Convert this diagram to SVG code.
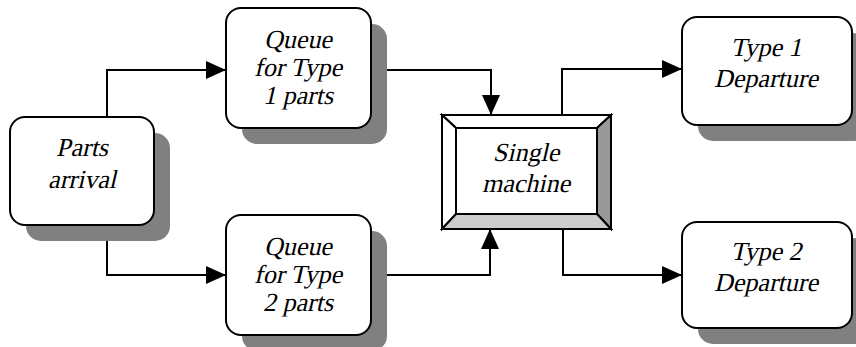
<svg xmlns="http://www.w3.org/2000/svg" width="856" height="347" viewBox="0 0 856 347">
<defs>
<style>
.box{fill:#fff;stroke:#000;stroke-width:2}
.sh{fill:#808080}
.con{fill:none;stroke:#000;stroke-width:2}
.bev{stroke:#000;stroke-width:2}
text{font-family:'Liberation Serif','Times New Roman',serif;font-size:26px;text-anchor:middle;fill:#000}
</style>
<marker id="ah" markerUnits="userSpaceOnUse" markerWidth="20" markerHeight="18" refX="19" refY="9" orient="auto">
<path d="M0,0 L20,9 L0,18 Z" fill="#000"/>
</marker>
</defs>
<rect width="856" height="347" fill="#fff"/>
<g id="connectors">
<path class="con" d="M107,117 V70 H225" marker-end="url(#ah)"/>
<path class="con" d="M107,225 V275 H225" marker-end="url(#ah)"/>
<path class="con" d="M371,70 H491 V114" marker-end="url(#ah)"/>
<path class="con" d="M371,275 H490 V230" marker-end="url(#ah)"/>
<path class="con" d="M562,115 V69 H681" marker-end="url(#ah)"/>
<path class="con" d="M563,229 V275 H681" marker-end="url(#ah)"/>
</g>
<g id="parts-arrival">
<rect class="sh" x="26" y="133" width="144" height="108" rx="15"/>
<rect class="box" x="10" y="117" width="144" height="108" rx="15"/>
<text transform="translate(82,156) skewX(-13)">Parts</text>
<text transform="translate(82,188) skewX(-13)">arrival</text>
</g>
<g id="queue1">
<rect class="sh" x="242" y="24" width="145" height="120" rx="15"/>
<rect class="box" x="226" y="8" width="145" height="120" rx="15"/>
<text transform="translate(298,48) skewX(-13)">Queue</text>
<text transform="translate(298,76) skewX(-13)">for Type</text>
<text transform="translate(298,104) skewX(-13)">1 parts</text>
</g>
<g id="queue2">
<rect class="sh" x="242" y="231" width="145" height="120" rx="15"/>
<rect class="box" x="226" y="215" width="145" height="120" rx="15"/>
<text transform="translate(298,255) skewX(-13)">Queue</text>
<text transform="translate(298,283) skewX(-13)">for Type</text>
<text transform="translate(298,311) skewX(-13)">2 parts</text>
</g>
<g id="machine">
<polygon class="bev" points="442,115 611,115 597,128 456,128" fill="#fff"/>
<polygon class="bev" points="442,115 456,128 456,214 442,229" fill="#fff"/>
<polygon class="bev" points="611,115 611,229 597,214 597,128" fill="#999"/>
<polygon class="bev" points="442,229 456,214 597,214 611,229" fill="#ccc"/>
<rect class="bev" x="456" y="128" width="141" height="86" fill="#fff"/>
<rect class="bev" x="442" y="115" width="169" height="114" fill="none"/>
<text transform="translate(526,161) skewX(-13)">Single</text>
<text transform="translate(526,192) skewX(-13)">machine</text>
</g>
<g id="type1-departure">
<rect class="sh" x="698" y="33" width="170" height="108" rx="15"/>
<rect class="box" x="682" y="17" width="170" height="108" rx="15"/>
<text transform="translate(766,56) skewX(-13)">Type 1</text>
<text transform="translate(766,87) skewX(-13)">Departure</text>
</g>
<g id="type2-departure">
<rect class="sh" x="698" y="238" width="170" height="106" rx="15"/>
<rect class="box" x="682" y="222" width="170" height="106" rx="15"/>
<text transform="translate(766,260) skewX(-13)">Type 2</text>
<text transform="translate(766,291) skewX(-13)">Departure</text>
</g>
</svg>
